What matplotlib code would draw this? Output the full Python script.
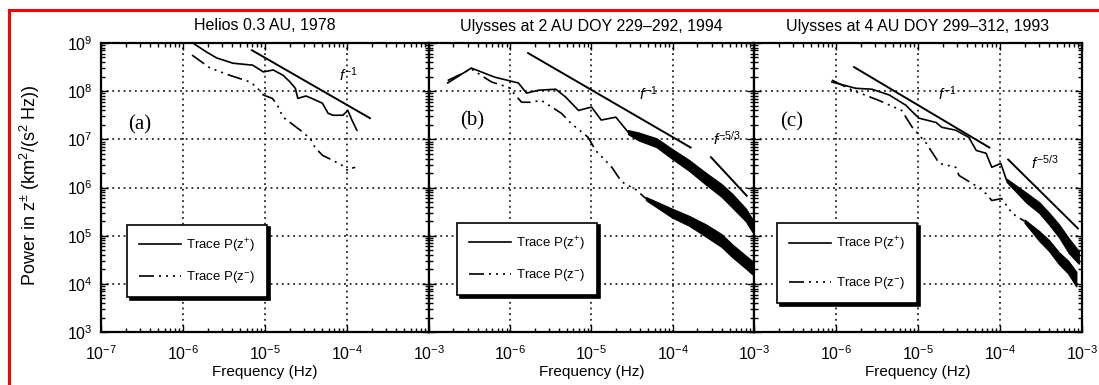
import numpy as np
import matplotlib
matplotlib.use('Agg')
import matplotlib.pyplot as plt
from matplotlib.lines import Line2D
from matplotlib.ticker import LogLocator, FixedLocator, FixedFormatter, NullFormatter

plt.rcParams['font.family'] = ['Liberation Sans', 'DejaVu Sans']
plt.rcParams['mathtext.fontset'] = 'custom'
plt.rcParams['mathtext.rm'] = 'Liberation Sans'
plt.rcParams['mathtext.it'] = 'Liberation Sans:italic'
plt.rcParams['mathtext.bf'] = 'Liberation Sans:bold'

# ---- data (log10 of frequency in Hz, log10 of power in km^2/(s^2 Hz)) ----
titles = ["Helios 0.3 AU, 1978",
          "Ulysses at 2 AU DOY 229\u2013292, 1994",
          "Ulysses at 4 AU DOY 299\u2013312, 1993"]
panel_tags = ["(a)", "(b)", "(c)"]

# (a) Helios
a_fp = [-5.88, -5.72, -5.59, -5.39, -5.15, -5.02, -4.90, -4.78, -4.70, -4.63, -4.60,
        -4.50, -4.43, -4.30, -4.23, -4.17, -4.05, -3.99, -3.94, -3.88]
a_pp = [9.00, 8.82, 8.69, 8.58, 8.54, 8.40, 8.44, 8.33, 8.20, 8.06, 7.85,
        7.90, 7.85, 7.75, 7.54, 7.50, 7.50, 7.60, 7.40, 7.19]
a_fm = [-5.89, -5.67, -5.43, -5.18, -5.10, -5.02, -4.91, -4.85, -4.78, -4.57,
        -4.45, -4.39, -4.30, -4.17, -4.06, -3.99, -3.94, -3.90]
a_pm = [8.75, 8.48, 8.33, 8.19, 8.08, 7.92, 7.85, 7.71, 7.46, 7.19,
        7.02, 6.83, 6.67, 6.56, 6.46, 6.35, 6.40, 6.42]

# (b) Ulysses 2 AU
b_fp = [-6.77, -6.48, -6.19, -5.90, -5.80, -5.65, -5.44, -5.32, -5.16, -5.00,
        -4.88, -4.70, -4.55]
b_pp = [8.17, 8.48, 8.29, 8.17, 7.96, 8.02, 8.04, 7.88, 7.60, 7.67,
        7.40, 7.46, 7.15]
b_fp_band = [-4.55, -4.42, -4.20, -4.01, -3.80, -3.59, -3.40, -3.27, -3.10, -3.02]
b_pp_hi = [7.19, 7.14, 7.02, 6.80, 6.57, 6.30, 6.07, 5.87, 5.56, 5.34]
b_pp_lo = [7.11, 6.98, 6.84, 6.60, 6.35, 6.06, 5.81, 5.59, 5.30, 5.08]
b_fm = [-6.77, -6.48, -6.23, -6.02, -5.86, -5.74, -5.62, -5.37, -5.25, -5.04,
        -4.95, -4.75, -4.63, -4.45, -4.33]
b_pm = [8.22, 8.46, 8.19, 8.08, 7.77, 7.77, 7.81, 7.54, 7.33, 7.04,
        6.77, 6.42, 6.12, 5.95, 5.77]
b_fm_band = [-4.33, -4.01, -3.80, -3.59, -3.40, -3.27, -3.10, -3.02]
b_pm_hi = [5.80, 5.56, 5.41, 5.23, 5.03, 4.82, 4.58, 4.47]
b_pm_lo = [5.74, 5.38, 5.21, 4.98, 4.77, 4.56, 4.32, 4.20]

# (c) Ulysses 4 AU
c_fp = [-6.05, -5.76, -5.56, -5.35, -5.15, -4.99, -4.78, -4.71, -4.54, -4.38,
        -4.29, -4.17, -4.10, -3.99, -3.92]
c_pp = [8.19, 8.06, 8.04, 7.92, 7.71, 7.44, 7.35, 7.25, 7.19, 7.04,
        6.77, 6.71, 6.42, 6.50, 6.15]
c_fp_band = [-3.92, -3.68, -3.52, -3.40, -3.28, -3.16, -3.04]
c_pp_hi = [6.18, 5.89, 5.69, 5.47, 5.23, 4.94, 4.68]
c_pp_lo = [6.12, 5.69, 5.47, 5.23, 4.97, 4.64, 4.42]
c_fm = [-6.05, -5.80, -5.48, -5.20, -5.07, -4.90, -4.74, -4.54, -4.50, -4.26,
        -4.17, -4.10, -3.98, -3.85, -3.70]
c_pm = [8.23, 8.02, 7.81, 7.60, 7.25, 6.92, 6.50, 6.42, 6.25, 6.00,
        5.87, 5.73, 5.77, 5.46, 5.30]
c_fm_band = [-3.70, -3.52, -3.40, -3.28, -3.17, -3.07]
c_pm_hi = [5.33, 5.09, 4.90, 4.65, 4.48, 4.25]
c_pm_lo = [5.27, 4.89, 4.68, 4.41, 4.22, 3.95]

# reference power-law lines: (log f start, log f end), (log P start, log P end)
fit_lines = [
    [((-5.16, -3.72), (8.85, 7.44))],
    [((-5.78, -3.78), (8.79, 6.83)), ((-3.53, -3.09), (6.63, 5.83))],
    [((-5.78, -4.13), (8.50, 6.83)), ((-3.90, -3.05), (6.58, 5.15))],
]
fit_labels = [
    [(-4.10, 8.35, r"$f^{-1}$")],
    [(-4.42, 7.95, r"$f^{-1}$"), (-3.50, 7.02, r"$f^{-5/3}$")],
    [(-4.76, 7.95, r"$f^{-1}$"), (-3.62, 6.52, r"$f^{-5/3}$")],
]

curves_plus = [(a_fp, a_pp, None), (b_fp, b_pp, (b_fp_band, b_pp_hi, b_pp_lo)),
               (c_fp, c_pp, (c_fp_band, c_pp_hi, c_pp_lo))]
curves_minus = [(a_fm, a_pm, None), (b_fm, b_pm, (b_fm_band, b_pm_hi, b_pm_lo)),
                (c_fm, c_pm, (c_fm_band, c_pm_hi, c_pm_lo))]

x_major = [1e-7, 1e-6, 1e-5, 1e-4, 1e-3]
x_labels_full = [r"$\mathregular{10^{-7}}$", r"$\mathregular{10^{-6}}$", r"$\mathregular{10^{-5}}$",
                 r"$\mathregular{10^{-4}}$", r"$\mathregular{10^{-3}}$"]
y_major = [1e3, 1e4, 1e5, 1e6, 1e7, 1e8, 1e9]
y_labels = [r"$\mathregular{10^{%d}}$" % k for k in range(3, 10)]

# ---- layout (pixels) ----
W, H = 1099, 385
panel_px = [(101, 429), (429, 754), (754, 1082)]
top_px, bot_px = 43, 332
legend_anchor = [(0.079, 0.121), (0.086, 0.128), (0.070, 0.100)]
legend_spacing = [1.1, 1.1, 1.7]
tag_pos = [(0.082, 0.716), (0.095, 0.73), (0.079, 0.727)]

dashdot = (0, (9, 3, 1.2, 3, 1.2, 3, 1.2, 3))

fig = plt.figure(figsize=(W / 100, H / 100), dpi=100)
fig.patch.set_facecolor('white')

for i, (x0, x1) in enumerate(panel_px):
    ax = fig.add_axes([x0 / W, (H - bot_px) / H, (x1 - x0) / W, (bot_px - top_px) / H])
    ax.set_xscale('log')
    ax.set_yscale('log')
    ax.set_xlim(1e-7, 1e-3)
    ax.set_ylim(1e3, 1e9)

    # grid
    for xv in x_major[1:-1]:
        ax.axvline(xv, color='k', lw=1.1, ls=(0, (1.2, 2.5)), zorder=1)
    for yv in y_major[1:-1]:
        ax.axhline(yv, color='k', lw=1.1, ls=(0, (1.2, 2.5)), zorder=1)

    # spectra
    fp, pp, bp = curves_plus[i]
    fm, pm, bm = curves_minus[i]
    ax.plot(10 ** np.array(fp), 10 ** np.array(pp), color='k', lw=1.2, zorder=3)
    ax.plot(10 ** np.array(fm), 10 ** np.array(pm), color='k', lw=1.2, ls=dashdot, zorder=3)
    for band in (bp, bm):
        if band is None:
            continue
        bf, hi, lo = band
        ax.fill_between(10 ** np.array(bf), 10 ** np.array(lo), 10 ** np.array(hi),
                        color='k', lw=1.0, zorder=3)

    # power-law reference lines
    for (fs, ps) in fit_lines[i]:
        ax.plot(10 ** np.array(fs), 10 ** np.array(ps), color='k', lw=1.4, zorder=3)
    for (fx, py, txt) in fit_labels[i]:
        ax.text(10 ** fx, 10 ** py, txt, fontsize=11, ha='left', va='center', zorder=4)

    ax.text(tag_pos[i][0], tag_pos[i][1], panel_tags[i], transform=ax.transAxes,
            fontsize=15, family='Liberation Serif', va='center', ha='left')

    # ticks
    ax.xaxis.set_major_locator(FixedLocator(x_major))
    ax.yaxis.set_major_locator(FixedLocator(y_major))
    ax.xaxis.set_minor_locator(LogLocator(base=10, subs=np.arange(2, 10), numticks=20))
    ax.yaxis.set_minor_locator(LogLocator(base=10, subs=np.arange(2, 10), numticks=20))
    ax.xaxis.set_minor_formatter(NullFormatter())
    ax.yaxis.set_minor_formatter(NullFormatter())
    if i == 0:
        ax.xaxis.set_major_formatter(FixedFormatter(x_labels_full))
        ax.yaxis.set_major_formatter(FixedFormatter(y_labels))
    else:
        ax.xaxis.set_major_formatter(FixedFormatter([""] + x_labels_full[1:]))
        ax.yaxis.set_major_formatter(NullFormatter())
    ax.tick_params(which='both', direction='in', top=True, right=True, width=1.0, colors='k')
    ax.tick_params(which='major', length=5)
    ax.tick_params(which='minor', length=3)
    ax.tick_params(axis='x', which='major', labelsize=11.5, pad=9)
    ax.tick_params(axis='y', which='major', labelsize=11.5, pad=6)
    for sp in ax.spines.values():
        sp.set_linewidth(1.6)

    ax.set_title(titles[i], fontsize=11.5, pad=9)
    ax.set_xlabel("Frequency (Hz)", fontsize=11, labelpad=1)

    # legend
    handles = [Line2D([], [], color='k', lw=1.2),
               Line2D([], [], color='k', lw=1.2, ls=dashdot)]
    leg = ax.legend(handles, [r"Trace P(z$^{+}$)", r"Trace P(z$^{-}$)"],
                    loc='lower left', bbox_to_anchor=legend_anchor[i], borderaxespad=0,
                    fontsize=9.5, handlelength=3.2, handletextpad=0.4,
                    labelspacing=legend_spacing[i], borderpad=0.9,
                    fancybox=False, framealpha=1, edgecolor='k',
                    shadow={'facecolor': 'k', 'edgecolor': 'k', 'alpha': 1})
    leg.get_frame().set_linewidth(1.2)
    leg.set_zorder(5)

fig.text(30 / W, 0.52, r"Power in z$^{\pm}$ (km$^2$/(s$^2$ Hz))", rotation=90,
         fontsize=13, ha='center', va='center')

# red frame
fig.add_artist(Line2D([9 / W, 9 / W], [0, (H - 10) / H], color='#ff0000', lw=2.2))
fig.add_artist(Line2D([9 / W, 1], [(H - 10) / H, (H - 10) / H], color='#ff0000', lw=2.2))

fig.savefig("out.png", dpi=100)
